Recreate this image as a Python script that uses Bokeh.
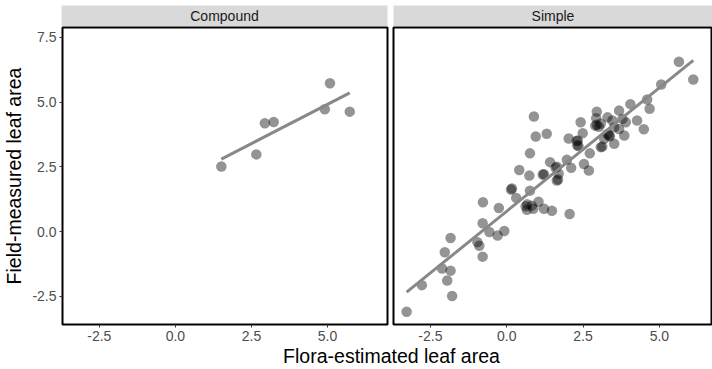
import numpy as np
from bokeh.plotting import figure
from bokeh.models import Range1d, FixedTicker, Label, PrintfTickFormatter
from bokeh.layouts import column, row
from bokeh.embed import file_html
from bokeh.resources import INLINE

# ---------------- data ----------------
facets = ["Compound", "Simple"]

compound_x = [1.51, 2.66, 2.94, 3.23, 4.91, 5.08, 5.73]
compound_y = [2.51, 2.98, 4.18, 4.23, 4.72, 5.73, 4.63]

simple_x = [-3.28, -2.78, -1.79, -1.95, -1.84, -2.12, -2.03, -1.84, -0.79, -0.96,
            -0.90, -0.79, -0.78, -0.57, -0.30, -0.08, -0.26, 0.14, 0.17, 0.31,
            0.41, 0.74, 0.76, 0.76, 0.89, 0.95, 1.31, 0.62, 0.67, 0.82,
            0.66, 0.87, 1.04, 1.22, 1.48, 2.06, 1.18, 1.22, 1.42, 1.60,
            1.64, 1.70, 1.64, 1.68, 1.97, 2.11, 2.53, 2.69, 2.72, 2.03,
            2.29, 2.33, 2.31, 2.35, 2.49, 2.42, 2.95, 2.93, 2.90, 2.95,
            3.08, 3.02, 3.30, 3.46, 3.68, 3.79, 3.90, 3.68, 3.85, 3.52,
            3.35, 3.38, 3.19, 3.52, 3.08, 3.13, 3.30, 4.05, 4.27, 4.49,
            4.68, 4.60, 5.06, 5.64, 6.11]
simple_y = [-3.10, -2.07, -2.49, -1.89, -1.51, -1.43, -0.80, -0.25, -0.97, -0.41,
            -0.55, 0.32, 1.13, -0.02, -0.15, 0.02, 0.91, 1.62, 1.66, 1.30,
            2.38, 2.16, 1.58, 3.02, 4.44, 3.67, 3.78, 0.98, 1.05, 1.00,
            0.84, 0.88, 1.15, 0.88, 0.80, 0.68, 2.20, 2.21, 2.68, 2.46,
            2.50, 2.23, 1.97, 2.01, 2.77, 2.46, 2.61, 2.36, 3.02, 3.59,
            3.50, 3.52, 3.33, 3.30, 3.80, 4.22, 4.63, 4.38, 4.09, 4.12,
            4.16, 4.05, 4.41, 4.29, 4.67, 4.35, 4.22, 3.96, 3.71, 4.03,
            3.71, 3.68, 3.58, 3.39, 3.26, 3.28, 3.77, 4.92, 4.29, 3.95,
            4.74, 5.10, 5.68, 6.56, 5.87]

x_ticks = [-2.5, 0.0, 2.5, 5.0]
y_ticks = [-2.5, 0.0, 2.5, 5.0, 7.5]
x_title = "Flora-estimated leaf area"
y_title = "Field-measured leaf area"

FONT = "Liberation Sans"
PT_ALPHA = 0.42
LINE_COLOR = "#888888"

y_range = Range1d(-3.59, 7.88)


def strip(label, width, left, right):
    s = figure(width=width, height=26, min_border_left=left, min_border_right=right,
               min_border_top=5, min_border_bottom=0, x_range=(0, 1), y_range=(0, 1),
               toolbar_location=None, output_backend="svg")
    s.axis.visible = False
    s.grid.visible = False
    s.outline_line_color = None
    s.background_fill_color = "#d9d9d9"
    s.add_layout(Label(x=0.5, y=0.5, text=label, text_align="center",
                       text_baseline="middle", text_font=FONT,
                       text_font_size="14px", text_color="#1a1a1a"))
    return s


def panel(xs, ys, xr, width, left, right, show_y):
    p = figure(width=width, height=320, min_border_left=left, min_border_right=right,
               min_border_top=1, min_border_bottom=22, x_range=xr, y_range=y_range,
               toolbar_location=None, output_backend="svg")
    p.grid.visible = False
    p.outline_line_color = "black"
    p.outline_line_width = 2
    p.background_fill_color = "white"
    p.scatter(xs, ys, size=10.5, fill_color="black", fill_alpha=PT_ALPHA, line_color=None)
    xa = np.array(xs)
    ya = np.array(ys)
    k, b = np.polyfit(xa, ya, 1)
    lx = np.array([xa.min(), xa.max()])
    p.line(lx, k * lx + b, line_color=LINE_COLOR, line_width=3)

    for ax in p.axis:
        ax.axis_line_color = None
        ax.major_tick_line_color = "#333333"
        ax.major_tick_out = 3
        ax.major_tick_in = 0
        ax.minor_tick_line_color = None
        ax.major_label_text_font = FONT
        ax.major_label_text_font_size = "14px"
        ax.major_label_text_color = "#4d4d4d"
        ax.major_label_standoff = 3
        ax.formatter = PrintfTickFormatter(format="%.1f")
    p.xaxis.ticker = FixedTicker(ticks=x_ticks)
    p.yaxis.ticker = FixedTicker(ticks=y_ticks)
    if show_y:
        p.yaxis.axis_label = y_title
        p.yaxis.axis_label_text_font = FONT
        p.yaxis.axis_label_text_font_size = "19.5px"
        p.yaxis.axis_label_text_font_style = "normal"
        p.yaxis.axis_label_text_color = "black"
        p.yaxis.axis_label_standoff = 4
    else:
        p.yaxis.visible = False
    return p


s1 = strip(facets[0], 390, 61, 3)
s2 = strip(facets[1], 322, 3, 0)
p1 = panel(compound_x, compound_y, Range1d(-3.71, 6.97), 390, 61, 3, True)
p2 = panel(simple_x, simple_y, Range1d(-3.71, 6.74), 322, 3, 0, False)

bottom = figure(width=712, height=23, min_border_left=0, min_border_right=0,
                min_border_top=0, min_border_bottom=0, x_range=(0, 712), y_range=(0, 23),
                toolbar_location=None, output_backend="svg")
bottom.axis.visible = False
bottom.grid.visible = False
bottom.outline_line_color = None
bottom.add_layout(Label(x=391, y=14, text=x_title, text_align="center",
                        text_baseline="middle", text_font=FONT,
                        text_font_size="19.5px", text_color="black"))

layout = column(row(s1, s2), row(p1, p2), bottom)

open("out.html", "w").write(file_html(layout, INLINE))
